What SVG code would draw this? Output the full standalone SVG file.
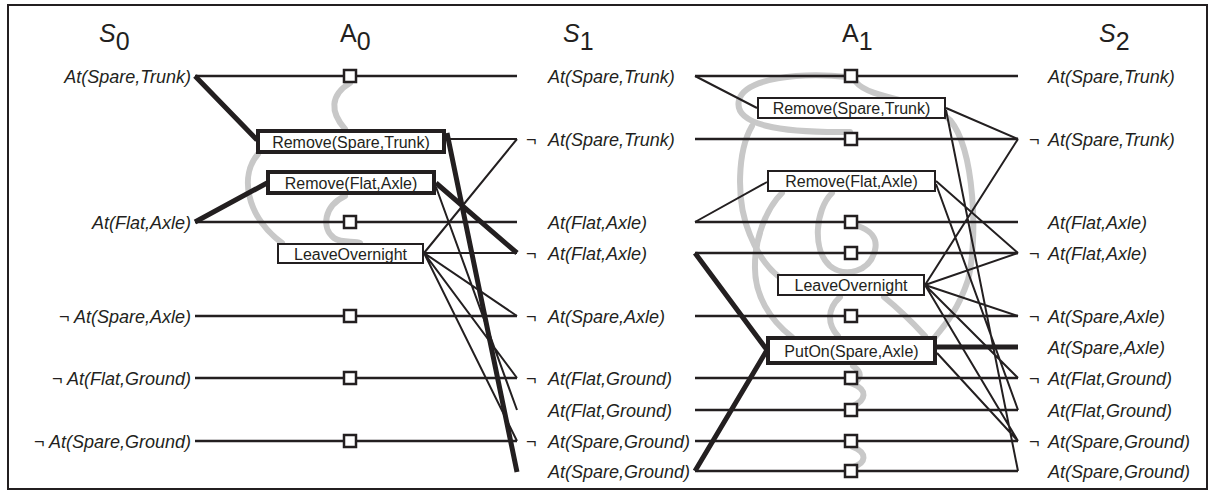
<svg xmlns="http://www.w3.org/2000/svg" width="1213" height="496" viewBox="0 0 1213 496">
<style>
.lit{font-family:"Liberation Sans",Arial,sans-serif;font-style:italic;font-size:18px;fill:#231f20}
.act{font-family:"Liberation Sans",Arial,sans-serif;font-size:16px;fill:#231f20;text-anchor:middle}
.head{font-family:"Liberation Sans",Arial,sans-serif;font-size:25px;fill:#231f20}
.row{stroke:#231f20;stroke-width:2.5;fill:none}
.thin{stroke:#231f20;stroke-width:2;fill:none}
.thick{stroke:#231f20;stroke-width:5;fill:none}
.mutex{stroke:#c8c8c8;stroke-width:6;fill:none;stroke-linecap:round}
.box{fill:#fff;stroke:#231f20;stroke-width:2}
.tbox{fill:#fff;stroke:#231f20;stroke-width:4}
.sq{fill:#fff;stroke:#231f20;stroke-width:2.5}
</style>
<defs>
<rect id="sqr" x="-6" y="-6" width="12" height="12" class="sq"/>
</defs>
<rect x="8" y="5" width="1199" height="484" fill="#fff" stroke="#231f20" stroke-width="2"/>

<g id="headings">
<text class="head" x="99" y="42"><tspan font-style="italic">S</tspan><tspan dy="8">0</tspan></text>
<text class="head" x="340" y="42">A<tspan dy="8">0</tspan></text>
<text class="head" x="563" y="42"><tspan font-style="italic">S</tspan><tspan dy="8">1</tspan></text>
<text class="head" x="842" y="42">A<tspan dy="8">1</tspan></text>
<text class="head" x="1099" y="42"><tspan font-style="italic">S</tspan><tspan dy="8">2</tspan></text>
</g>

<g id="connectors">
<!-- mutex arcs A0 -->
<path class="mutex" d="M350,83 C330,95 330,112 345,129"/>
<path class="mutex" d="M258,154 C240,175 245,215 282,243"/>
<path class="mutex" d="M345,196 C324,206 321,228 334,238 C342,244 355,240 360,243"/>
<!-- mutex arcs A1 -->
<path class="mutex" d="M848,77 C800,72 745,78 739,100 C733,125 780,133 850,132"/>
<path class="mutex" d="M856,82 C870,100 930,100 950,120 C975,150 978,240 968,280 C958,310 945,325 935,337"/>
<path class="mutex" d="M752,126 C738,150 735,200 750,235 C758,255 768,268 778,276"/>
<path class="mutex" d="M782,193 C765,210 755,240 755,265 C754,295 770,320 792,337"/>
<path class="mutex" d="M832,193 C815,210 812,250 830,266 C845,278 870,272 875,250 C878,238 870,230 858,226"/>
<path class="mutex" d="M840,297 C826,310 828,325 838,336"/>
<path class="mutex" d="M884,297 C900,310 915,325 925,336"/>
<path class="mutex" d="M853,366 C862,372 862,378 853,384 C868,390 866,400 853,406"/>
<path class="mutex" d="M853,447 C868,453 866,463 853,467"/>

<!-- rows S0 -> S1 -->
<path class="row" d="M195,76H517M195,222H517M195,316H517M195,378H517M195,441H517"/>
<!-- rows S1 -> S2 -->
<path class="row" d="M695,76H1018M695,139H1018M695,222H1018M695,253H1018M695,316H1018M695,378H1018M695,410H1018M695,441H1018M695,471H1018"/>

<!-- A0 links -->
<path class="thick" d="M195,76L257,140M195,222L267,183M436,183L517,253M447,133L517,472"/>
<path class="thin" d="M446,139L517,139M424,253L517,139M424,253L517,253M424,253L517,316M424,253L517,378M424,253L517,441M436,187L517,410"/>

<!-- A1 links -->
<path class="thin" d="M695,76L757,108M695,222L767,182"/>
<path class="thick" d="M695,253L767,350M695,471L767,350M937,347L1018,347"/>
<path class="thin" d="M946,108L1018,139M946,110L1018,471M936,181L1018,253M936,184L1018,410M925,285L1018,139M925,285L1018,253M925,285L1018,316M925,285L1018,378M925,285L1018,441M937,353L1018,441"/>
</g>

<g id="s0">
<text class="lit" x="191" y="83" text-anchor="end">At(Spare,Trunk)</text>
<text class="lit" x="191" y="229" text-anchor="end">At(Flat,Axle)</text>
<text class="lit" x="191" y="323" text-anchor="end">¬ At(Spare,Axle)</text>
<text class="lit" x="191" y="385" text-anchor="end">¬ At(Flat,Ground)</text>
<text class="lit" x="191" y="448" text-anchor="end">¬ At(Spare,Ground)</text>
</g>

<g id="a0">
<g id="a0-p1"><use href="#sqr" x="350" y="76"/></g>
<g id="a0-p2"><use href="#sqr" x="350" y="222"/></g>
<g id="a0-p3"><use href="#sqr" x="350" y="316"/></g>
<g id="a0-p4"><use href="#sqr" x="350" y="378"/></g>
<g id="a0-p5"><use href="#sqr" x="350" y="441"/></g>
<g id="a0-remove-spare-trunk"><rect class="tbox" x="258" y="131" width="186" height="21"/><text class="act" x="351" y="148">Remove(Spare,Trunk)</text></g>
<g id="a0-remove-flat-axle"><rect class="tbox" x="268" y="172" width="166" height="21"/><text class="act" x="351" y="189">Remove(Flat,Axle)</text></g>
<g id="a0-leave-overnight"><rect class="box" x="278" y="244" width="145" height="19"/><text class="act" x="350.5" y="259.5">LeaveOvernight</text></g>
</g>

<g id="s1">
<text class="lit" x="548" y="83">At(Spare,Trunk)</text>
<text class="lit" y="146"><tspan x="526">¬</tspan><tspan x="548">At(Spare,Trunk)</tspan></text>
<text class="lit" x="548" y="229">At(Flat,Axle)</text>
<text class="lit" y="260"><tspan x="526">¬</tspan><tspan x="548">At(Flat,Axle)</tspan></text>
<text class="lit" y="323"><tspan x="526">¬</tspan><tspan x="548">At(Spare,Axle)</tspan></text>
<text class="lit" y="385"><tspan x="526">¬</tspan><tspan x="548">At(Flat,Ground)</tspan></text>
<text class="lit" x="548" y="417">At(Flat,Ground)</text>
<text class="lit" y="448"><tspan x="526">¬</tspan><tspan x="548">At(Spare,Ground)</tspan></text>
<text class="lit" x="548" y="478">At(Spare,Ground)</text>
</g>

<g id="a1">
<g id="a1-p1"><use href="#sqr" x="851" y="76"/></g>
<g id="a1-p2"><use href="#sqr" x="851" y="139"/></g>
<g id="a1-p3"><use href="#sqr" x="851" y="222"/></g>
<g id="a1-p4"><use href="#sqr" x="851" y="253"/></g>
<g id="a1-p5"><use href="#sqr" x="851" y="316"/></g>
<g id="a1-p6"><use href="#sqr" x="851" y="378"/></g>
<g id="a1-p7"><use href="#sqr" x="851" y="410"/></g>
<g id="a1-p8"><use href="#sqr" x="851" y="441"/></g>
<g id="a1-p9"><use href="#sqr" x="851" y="471"/></g>
<g id="a1-remove-spare-trunk"><rect class="box" x="758" y="98" width="187" height="20"/><text class="act" x="851.5" y="114">Remove(Spare,Trunk)</text></g>
<g id="a1-remove-flat-axle"><rect class="box" x="768" y="171" width="167" height="20"/><text class="act" x="851.5" y="187">Remove(Flat,Axle)</text></g>
<g id="a1-leave-overnight"><rect class="box" x="778" y="275" width="146" height="20"/><text class="act" x="851" y="291">LeaveOvernight</text></g>
<g id="a1-puton-spare-axle"><rect class="tbox" x="768" y="338" width="167" height="25"/><text class="act" x="851.5" y="356.5">PutOn(Spare,Axle)</text></g>
</g>

<g id="s2">
<text class="lit" x="1048" y="83">At(Spare,Trunk)</text>
<text class="lit" y="146"><tspan x="1029">¬</tspan><tspan x="1048">At(Spare,Trunk)</tspan></text>
<text class="lit" x="1048" y="229">At(Flat,Axle)</text>
<text class="lit" y="260"><tspan x="1029">¬</tspan><tspan x="1048">At(Flat,Axle)</tspan></text>
<text class="lit" y="323"><tspan x="1029">¬</tspan><tspan x="1048">At(Spare,Axle)</tspan></text>
<text class="lit" x="1048" y="354">At(Spare,Axle)</text>
<text class="lit" y="385"><tspan x="1029">¬</tspan><tspan x="1048">At(Flat,Ground)</tspan></text>
<text class="lit" x="1048" y="417">At(Flat,Ground)</text>
<text class="lit" y="448"><tspan x="1029">¬</tspan><tspan x="1048">At(Spare,Ground)</tspan></text>
<text class="lit" x="1048" y="478">At(Spare,Ground)</text>
</g>
</svg>
